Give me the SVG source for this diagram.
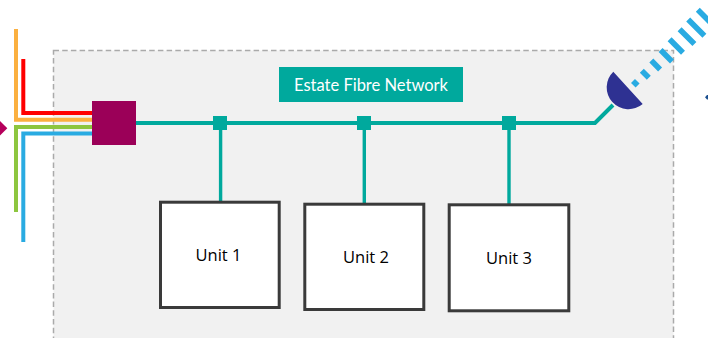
<svg xmlns="http://www.w3.org/2000/svg" width="708" height="338" viewBox="0 0 708 338">
<style>
.unit{fill:#fff;stroke:#3a3a3a;stroke-width:3}
.utext{font-family:"Open Sans","Noto Sans",sans-serif;font-size:16.500px;fill:#000;text-anchor:middle}
.teal{fill:none;stroke:#00a99d;stroke-width:4}
.drop{fill:none;stroke:#00a99d;stroke-width:3.400}
.fibre{fill:none;stroke-width:4}
.junction{fill:#00a99d}
.beam{fill:none;stroke:#29abe2;stroke-width:5.600}
</style>
<rect width="708" height="338" fill="#fff"/>
<rect id="estate-panel" x="53.500" y="50.500" width="620" height="300" fill="#f1f1f1" stroke="#aaa" stroke-width="1.500" stroke-dasharray="5.500 3.200"/>
<g id="connectors">
<path class="fibre" stroke="#ff0000" d="M23.300 59V113H93"/>
<path class="fibre" stroke="#fbb040" d="M16 29V119.800H93"/>
<path class="fibre" stroke="#8dc63f" d="M16 212V127H93"/>
<path class="fibre" stroke="#29abe2" d="M23.300 242V133.500H93"/>
<path class="teal" d="M136 123H595L613 105"/>
<path class="drop" d="M220.600 123V309M364.300 123V204M509 123V205"/>
</g>
<g id="source-arrow"><polygon points="-7,128.300 0,121 7.300,128.300 0,135.500" fill="#b5005b"/></g>
<g id="switch"><rect x="92" y="101" width="44" height="44" fill="#9b0058"/></g>
<g id="junction-1"><rect class="junction" x="213" y="116" width="14" height="14"/></g>
<g id="junction-2"><rect class="junction" x="357" y="116" width="14" height="14"/></g>
<g id="junction-3"><rect class="junction" x="502" y="116" width="14" height="14"/></g>
<g id="network-label"><rect x="279" y="67" width="184" height="35" fill="#00a99d"/>
<text x="371" y="90.500" font-family="Lato,sans-serif" font-size="16.500" fill="#fff" text-anchor="middle">Estate Fibre Network</text></g>
<g id="unit-1"><rect class="unit" x="160.500" y="202.200" width="118.700" height="105.300"/><text class="utext" x="218.500" y="261">Unit 1</text></g>
<g id="unit-2"><rect class="unit" x="304.800" y="204.200" width="119" height="105.300"/><text class="utext" x="366" y="263">Unit 2</text></g>
<g id="unit-3"><rect class="unit" x="449.200" y="204.800" width="119.600" height="106"/><text class="utext" x="509" y="264">Unit 3</text></g>
<g id="dish"><path d="M613.300 71.700A21.850 21.850 0 0 0 642.700 104Z" fill="#2e3192"/></g>
<g id="beam">
<path class="beam" d="M633 81L637.600 85.600M641.800 70.800L648.800 77.800M651.300 60.600L660.100 69.400M660.600 50L672 61.400M669.600 39.300L683 52.700M679.600 29.300L694.400 44.100M688.200 19.600L704.400 35.800M697.800 9.800L714.800 26.800"/>
</g>
<g id="remote"><polygon points="705,97.300 707,95 708,95 708,99.500 707,99.500" fill="#1b4f8f"/></g>
</svg>
